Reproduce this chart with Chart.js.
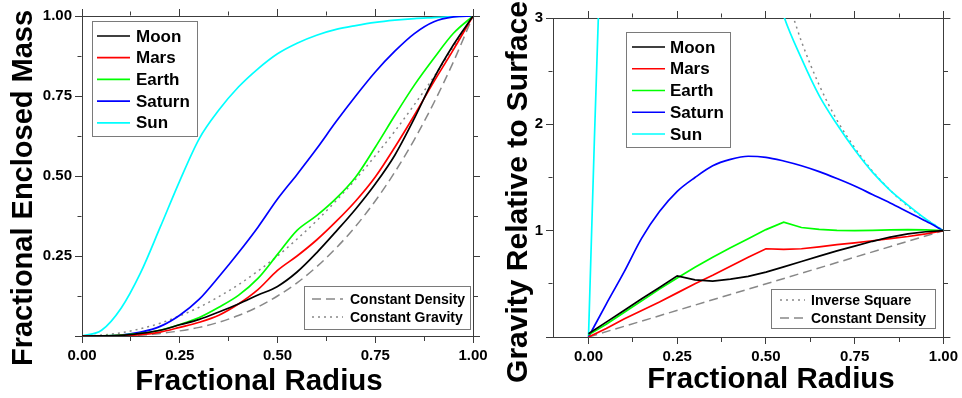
<!DOCTYPE html>
<html>
<head>
<meta charset="utf-8">
<title>Enclosed mass and gravity</title>
<script src="https://cdn.jsdelivr.net/npm/chart.js@4.4.1/dist/chart.umd.min.js"></script>
<style>
  html, body { margin: 0; padding: 0; background: #fff; }
  #wrap { position: relative; width: 962px; height: 398px; overflow: hidden; }
  #mass-canvas { position: absolute; left: 0; top: 0; }
  #gravity-canvas { position: absolute; left: 480px; top: 0; }
</style>
</head>
<body>
<div id="wrap">
  <canvas id="mass-canvas" width="500" height="398"></canvas>
  <canvas id="gravity-canvas" width="482" height="398"></canvas>
</div>
<script>
// Values

// Left panel: fractional enclosed mass vs fractional radius
const massRadius  = [0, 0.05, 0.1, 0.15, 0.2, 0.25, 0.3, 0.35, 0.4, 0.45, 0.5, 0.55, 0.6, 0.65, 0.7, 0.75, 0.8, 0.85, 0.9, 0.95, 1];
const massMoon    = [0, 0.0003, 0.002, 0.008, 0.018, 0.035, 0.052, 0.075, 0.1, 0.128, 0.155, 0.2, 0.26, 0.327, 0.397, 0.475, 0.565, 0.68, 0.805, 0.91, 1];
const massMars    = [0, 0.0003, 0.001, 0.004, 0.012, 0.027, 0.043, 0.065, 0.1, 0.145, 0.205, 0.25, 0.3, 0.358, 0.422, 0.497, 0.59, 0.69, 0.795, 0.895, 1];
const massEarth   = [0, 0.0005, 0.003, 0.008, 0.018, 0.036, 0.058, 0.09, 0.127, 0.18, 0.255, 0.33, 0.376, 0.43, 0.497, 0.59, 0.689, 0.784, 0.868, 0.946, 1];
const massSaturn  = [0, 0.0003, 0.003, 0.012, 0.03, 0.065, 0.115, 0.185, 0.26, 0.34, 0.428, 0.505, 0.585, 0.67, 0.75, 0.825, 0.89, 0.945, 0.982, 0.997, 1];
const massSun     = [0, 0.018, 0.087, 0.198, 0.34, 0.485, 0.617, 0.706, 0.778, 0.835, 0.882, 0.915, 0.94, 0.958, 0.97, 0.98, 0.987, 0.992, 0.995, 0.998, 1];
const massDensity = [0, 0, 0.001, 0.003, 0.008, 0.016, 0.027, 0.043, 0.064, 0.091, 0.125, 0.166, 0.216, 0.275, 0.343, 0.422, 0.512, 0.614, 0.729, 0.857, 1];
const massGravity = [0, 0.003, 0.01, 0.023, 0.04, 0.063, 0.09, 0.123, 0.16, 0.203, 0.25, 0.303, 0.36, 0.423, 0.49, 0.563, 0.64, 0.723, 0.81, 0.903, 1];

const massXTicks  = [0, 0.125, 0.25, 0.375, 0.5, 0.625, 0.75, 0.875, 1];
const massXLabels = ['0.00', '', '0.25', '', '0.50', '', '0.75', '', '1.00'];
const massYTicks  = [0, 0.125, 0.25, 0.375, 0.5, 0.625, 0.75, 0.875, 1];
const massYLabels = ['', '', '0.25', '', '0.50', '', '0.75', '', '1.00'];

// Right panel: gravity relative to surface vs fractional radius
const gravRadius  = [0, 0.05, 0.1, 0.15, 0.2, 0.25, 0.3, 0.35, 0.4, 0.45, 0.5, 0.55, 0.6, 0.65, 0.7, 0.75, 0.8, 0.85, 0.9, 0.95, 1];
const gravMoon    = [0.03, 0.14, 0.25, 0.36, 0.465, 0.575, 0.538, 0.525, 0.545, 0.57, 0.61, 0.66, 0.71, 0.76, 0.81, 0.855, 0.9, 0.94, 0.97, 0.99, 1];
const gravMars    = [0, 0.08, 0.17, 0.25, 0.33, 0.415, 0.5, 0.58, 0.665, 0.75, 0.83, 0.825, 0.83, 0.848, 0.868, 0.885, 0.905, 0.925, 0.945, 0.97, 1];
const gravEarth   = [0.02, 0.12, 0.23, 0.34, 0.45, 0.555, 0.655, 0.75, 0.84, 0.925, 1.01, 1.08, 1.03, 1.012, 1.003, 1, 1.003, 1.007, 1.01, 1.007, 1];
const gravSaturn  = [0, 0.31, 0.61, 0.93, 1.18, 1.37, 1.5, 1.61, 1.67, 1.7, 1.69, 1.655, 1.61, 1.555, 1.49, 1.42, 1.34, 1.26, 1.175, 1.09, 1];
const gravSun     = [0, 5.3, 8, 8.5, 8, 7.2, 6.3, 5.5, 4.8, 4.2, 3.6, 3.02, 2.62, 2.27, 2, 1.76, 1.55, 1.38, 1.24, 1.11, 1];
const invSqRadius = [0.57, 0.6, 0.65, 0.7, 0.75, 0.8, 0.85, 0.9, 0.95, 1];
const gravInvSq   = [3.08, 2.78, 2.37, 2.04, 1.78, 1.56, 1.38, 1.23, 1.11, 1];
const densRadius  = [0, 1];
const gravDensity = [0, 1];

const gravXTicks  = [0, 0.125, 0.25, 0.375, 0.5, 0.625, 0.75, 0.875, 1];
const gravXLabels = ['0.00', '', '0.25', '', '0.50', '', '0.75', '', '1.00'];
const gravYTicks  = [0, 0.5, 1, 1.5, 2, 2.5, 3];
const gravYLabels = ['', '', '1', '', '2', '', '3'];

const FONT = "'Liberation Sans', Arial, sans-serif";
Chart.defaults.font.family = FONT;
Chart.defaults.color = '#000';

const frameColor = '#3c3c3c';
const tickLen = 7;
const minorLen = 4;
const dashed = [9, 5];
const dotted = [2, 4];

function isMajor(ctx, step) {
  if (!ctx.tick) return true;
  const r = ctx.tick.value / step;
  return Math.abs(r - Math.round(r)) < 1e-6;
}

// tick marks: minor ones drawn shorter with a dash pattern
function tickGrid(outerFirst, step) {
  return {
    drawOnChartArea: false,
    drawTicks: true,
    tickLength: tickLen,
    tickColor: frameColor,
    tickWidth: 1,
    tickBorderDash: (ctx) => (isMajor(ctx, step) ? [] : [minorLen, tickLen]),
    tickBorderDashOffset: (ctx) =>
      !isMajor(ctx, step) && outerFirst ? -(tickLen - minorLen - 0.5) : 0,
  };
}

function buildScales(cfg) {
  const labelFont = { size: 15, weight: 'bold' };
  const setTicks = (values) => (axis) => {
    axis.ticks = values.map((v) => ({ value: v }));
  };
  const border = { display: true, color: frameColor, width: 1 };
  return {
    x: {
      type: 'linear',
      position: 'bottom',
      min: cfg.xMin,
      max: cfg.xMax,
      afterBuildTicks: setTicks(cfg.xTicks),
      afterFit: (s) => { s.height = cfg.bottom; },
      border,
      grid: tickGrid(false, cfg.xStep),
      ticks: {
        autoSkip: false,
        maxRotation: 0,
        padding: 4,
        font: labelFont,
        color: '#000',
        callback: (v, i) => cfg.xLabels[i],
      },
    },
    xTop: {
      type: 'linear',
      position: 'top',
      min: cfg.xMin,
      max: cfg.xMax,
      afterBuildTicks: setTicks(cfg.xTicks),
      afterFit: (s) => { s.height = cfg.top; },
      border,
      grid: tickGrid(true, cfg.xStep),
      ticks: { display: false },
    },
    y: {
      type: 'linear',
      position: 'left',
      min: cfg.yMin,
      max: cfg.yMax,
      afterBuildTicks: setTicks(cfg.yTicks),
      afterFit: (s) => { s.width = cfg.left; },
      border,
      grid: tickGrid(true, cfg.yStep),
      ticks: {
        autoSkip: false,
        padding: 3,
        font: labelFont,
        color: '#000',
        callback: (v, i) => cfg.yLabels[i],
      },
    },
    yRight: {
      type: 'linear',
      position: 'right',
      min: cfg.yMin,
      max: cfg.yMax,
      afterBuildTicks: setTicks(cfg.yTicks),
      afterFit: (s) => { s.width = cfg.right; },
      border,
      grid: tickGrid(false, cfg.yStep),
      ticks: { display: false },
    },
  };
}

// smooth curves use monotone cubic interpolation, kinked ones stay straight
function series(label, xs, ys, color, opts = {}) {
  const ds = {
    label,
    data: xs.map((x, i) => ({ x, y: ys[i] })),
    borderColor: color,
    backgroundColor: color,
    borderWidth: opts.width || 1.7,
    borderDash: opts.dash || [],
    pointRadius: 0,
    tension: 0,
    fill: false,
  };
  if (opts.smooth) ds.cubicInterpolationMode = 'monotone';
  return ds;
}

// legend boxes drawn inside the plot, fed from the datasets
function boxLegend(boxes) {
  return {
    id: 'boxLegend',
    afterDatasetsDraw(chart) {
      const ctx = chart.ctx;
      boxes.forEach((b) => {
        ctx.save();
        ctx.fillStyle = '#fff';
        ctx.fillRect(b.left, b.top, b.width, b.height);
        ctx.strokeStyle = '#7a7a7a';
        ctx.lineWidth = 1;
        ctx.strokeRect(b.left + 0.5, b.top + 0.5, b.width, b.height);
        ctx.font = `bold ${b.fontSize}px ${FONT}`;
        ctx.textBaseline = 'middle';
        b.items.forEach((dsIndex, i) => {
          const ds = chart.data.datasets[dsIndex];
          const y = b.top + b.firstRow + i * b.rowHeight;
          ctx.beginPath();
          ctx.setLineDash(ds.borderDash);
          ctx.strokeStyle = ds.borderColor;
          ctx.lineWidth = ds.borderWidth;
          ctx.moveTo(b.left + b.sampleX, y);
          ctx.lineTo(b.left + b.sampleX + b.sampleWidth, y);
          ctx.stroke();
          ctx.setLineDash([]);
          ctx.fillStyle = '#000';
          ctx.fillText(ds.label, b.left + b.textX, y + 1);
        });
        ctx.restore();
      });
    },
  };
}

function axisTitles(titles) {
  return {
    id: 'axisTitles',
    afterDraw(chart) {
      const ctx = chart.ctx;
      titles.forEach((t) => {
        ctx.save();
        ctx.font = `bold ${t.size}px ${FONT}`;
        ctx.fillStyle = '#000';
        ctx.textAlign = 'center';
        ctx.textBaseline = 'alphabetic';
        ctx.translate(t.x, t.y);
        if (t.vertical) ctx.rotate(-Math.PI / 2);
        ctx.fillText(t.text, 0, 0);
        ctx.restore();
      });
    },
  };
}

const baseOptions = {
  responsive: false,
  animation: false,
  events: [],
  layout: { padding: 0 },
  plugins: { legend: { display: false }, tooltip: { enabled: false } },
};

const smooth = { smooth: true };

new Chart(document.getElementById('mass-canvas'), {
  type: 'line',
  data: {
    datasets: [
      series('Moon', massRadius, massMoon, '#000000', smooth),
      series('Mars', massRadius, massMars, '#ff0000', smooth),
      series('Earth', massRadius, massEarth, '#00ff00', smooth),
      series('Saturn', massRadius, massSaturn, '#0000ff', smooth),
      series('Sun', massRadius, massSun, '#00ffff', smooth),
      series('Constant Density', massRadius, massDensity, '#888888', { dash: dashed, width: 1.5, smooth: true }),
      series('Constant Gravity', massRadius, massGravity, '#888888', { dash: dotted, width: 1.5, smooth: true }),
    ],
  },
  options: {
    ...baseOptions,
    scales: buildScales({
      xMin: 0, xMax: 1, xTicks: massXTicks, xLabels: massXLabels, xStep: 0.25,
      yMin: 0, yMax: 1, yTicks: massYTicks, yLabels: massYLabels, yStep: 0.25,
      left: 82, right: 27, top: 16, bottom: 62,
    }),
  },
  plugins: [
    boxLegend([
      { left: 92, top: 21, width: 105, height: 115, firstRow: 15, rowHeight: 21.7,
        sampleX: 5, sampleWidth: 33, textX: 44, fontSize: 17, items: [0, 1, 2, 3, 4] },
      { left: 304, top: 286, width: 166, height: 43, firstRow: 13, rowHeight: 18,
        sampleX: 8, sampleWidth: 31, textX: 46, fontSize: 14, items: [5, 6] },
    ]),
    axisTitles([
      { text: 'Fractional Radius', x: 259, y: 390, size: 29.5 },
      { text: 'Fractional Enclosed Mass', x: 32, y: 188, size: 29, vertical: true },
    ]),
  ],
});

new Chart(document.getElementById('gravity-canvas'), {
  type: 'line',
  data: {
    datasets: [
      series('Moon', gravRadius, gravMoon, '#000000'),
      series('Mars', gravRadius, gravMars, '#ff0000'),
      series('Earth', gravRadius, gravEarth, '#00ff00'),
      series('Saturn', gravRadius, gravSaturn, '#0000ff', smooth),
      series('Sun', gravRadius, gravSun, '#00ffff', smooth),
      series('Inverse Square', invSqRadius, gravInvSq, '#888888', { dash: dotted, width: 1.5, smooth: true }),
      series('Constant Density', densRadius, gravDensity, '#888888', { dash: dashed, width: 1.5 }),
    ],
  },
  options: {
    ...baseOptions,
    scales: buildScales({
      xMin: -0.1, xMax: 1, xTicks: gravXTicks, xLabels: gravXLabels, xStep: 0.25,
      yMin: 0, yMax: 3, yTicks: gravYTicks, yLabels: gravYLabels, yStep: 1,
      left: 73, right: 18, top: 18, bottom: 61,
    }),
  },
  plugins: [
    boxLegend([
      { left: 146, top: 32, width: 104, height: 115, firstRow: 15, rowHeight: 21.75,
        sampleX: 6, sampleWidth: 33, textX: 44, fontSize: 17, items: [0, 1, 2, 3, 4] },
      { left: 291, top: 289, width: 164, height: 39, firstRow: 11, rowHeight: 18,
        sampleX: 9, sampleWidth: 25, textX: 40, fontSize: 14, items: [5, 6] },
    ]),
    axisTitles([
      { text: 'Fractional Radius', x: 291, y: 388, size: 29.5 },
      { text: 'Gravity Relative to Surface', x: 47, y: 192, size: 30, vertical: true },
    ]),
  ],
});
</script>
</body>
</html>
